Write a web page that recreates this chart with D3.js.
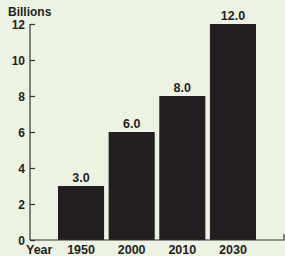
<!DOCTYPE html>
<html><head><meta charset="utf-8">
<script src="https://cdn.jsdelivr.net/npm/d3@7"></script>
<style>
html,body{margin:0;padding:0;background:#edf3e3;}
svg{display:block;}
text{font-family:"Liberation Sans",Arial,sans-serif;font-weight:bold;fill:#231f20;}
</style></head>
<body><svg id="c" width="285" height="256"></svg>
<script>
const categories = ["1950","2000","2010","2030"];
const values = [3.0, 6.0, 8.0, 12.0];
const valueLabels = ["3.0","6.0","8.0","12.0"];
const yTicks = [0,2,4,6,8,10,12];

const svg = d3.select("#c");
const y = d3.scaleLinear().domain([0,12]).range([240,24]);
const x = d3.scaleBand().domain(categories).range([58,256]).paddingInner(0.09).paddingOuter(0);

svg.selectAll("rect.bar").data(values).join("rect")
  .attr("x",(d,i)=>x(categories[i]))
  .attr("y",d=>y(d))
  .attr("width",x.bandwidth())
  .attr("height",d=>y(0)-y(d))
  .attr("fill","#231f20");

svg.selectAll("text.val").data(values).join("text")
  .attr("x",(d,i)=>x(categories[i])+x.bandwidth()/2)
  .attr("y",d=>y(d)-4)
  .attr("text-anchor","middle")
  .style("font-size","12.5px")
  .text((d,i)=>valueLabels[i]);

const yAxis = d3.axisRight(y).tickValues(yTicks).tickSize(5).tickFormat("");
const gy = svg.append("g").attr("transform","translate(30,0)").call(yAxis);
gy.select(".domain").remove();
gy.selectAll(".tick line").attr("stroke","#333").attr("stroke-width",1.2);
svg.append("line").attr("x1",30).attr("x2",30).attr("y1",y(12)).attr("y2",y(0))
  .attr("stroke","#333").attr("stroke-width",1.2);
svg.selectAll("text.ytl").data(yTicks).join("text")
  .attr("x",25).attr("y",d=>y(d)+4.5)
  .attr("text-anchor","end")
  .style("font-size","12px")
  .text(d=>d);

svg.append("path")
  .attr("d",`M30,${y(0)}H284V${y(0)-6}`)
  .attr("fill","none").attr("stroke","#333").attr("stroke-width",1.2);

svg.selectAll("text.xl").data(categories).join("text")
  .attr("x",d=>x(d)+x.bandwidth()/2)
  .attr("y",253.5)
  .attr("text-anchor","middle")
  .style("font-size","12.5px")
  .text(d=>d);
svg.append("text").attr("x",26).attr("y",253.5).style("font-size","12.5px").text("Year");
svg.append("text").attr("x",8).attr("y",16).style("font-size","12px").text("Billions");
</script></body></html>
